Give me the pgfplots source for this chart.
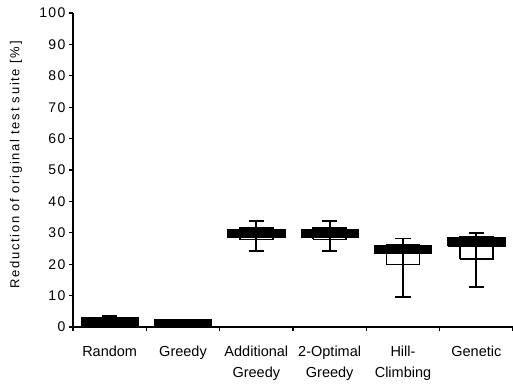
\documentclass[border=0pt]{standalone}
\usepackage{pgfplots}
\pgfplotsset{compat=1.18}
\usepackage{fontspec}
\setmainfont{Liberation Sans}
\newfontfamily\ticksfont[LetterSpace=10]{Liberation Sans}
\newfontfamily\labfont[LetterSpace=13]{Liberation Sans}

% #1 position, #2 min, #3 q1 (white box), #4 q3 (white box), #5 max, #6 black low, #7 black high
\newcommand{\stockbox}[7]{%
  \pgfmathsetmacro\sbWL{#1-0.225}\pgfmathsetmacro\sbWR{#1+0.225}%
  \pgfmathsetmacro\sbCL{#1-0.105}\pgfmathsetmacro\sbCR{#1+0.105}%
  \pgfmathsetmacro\sbBL{#1-0.39}\pgfmathsetmacro\sbBR{#1+0.39}%
  \addplot[draw=black, line width=1.5pt, line join=miter, fill=white] coordinates {(\sbWL,#3) (\sbWR,#3) (\sbWR,#4) (\sbWL,#4) (\sbWL,#3)};
  \addplot[draw=black, line width=1.7pt] coordinates {(#1,#2) (#1,#5)};
  \addplot[draw=black, line width=1.7pt] coordinates {(\sbCL,#2) (\sbCR,#2)};
  \addplot[draw=black, line width=1.7pt] coordinates {(\sbCL,#5) (\sbCR,#5)};
  \addplot[draw=black, line width=0.8pt, line join=miter, fill=black] coordinates {(\sbBL,#6) (\sbBR,#6) (\sbBR,#7) (\sbBL,#7) (\sbBL,#6)};
}

\begin{document}
\begin{tikzpicture}
\useasboundingbox (0,0) rectangle (513pt,385pt);
\begin{axis}[
  at={(73pt,58pt)}, anchor=south west,
  scale only axis, width=440pt, height=314pt,
  xmin=-0.5, xmax=5.5, ymin=0, ymax=100,
  axis x line*=bottom, axis y line*=left,
  axis line style={line width=1.2pt, black},
  ytick={0,10,...,100},
  xtick={0,...,5},
  xticklabels={Random, Greedy, {Additional\\Greedy}, {2-Optimal\\Greedy}, {Hill-\\Climbing}, Genetic},
  minor xtick={-0.5,0.5,...,5.5},
  tick align=outside,
  major tick length=4pt,
  major x tick style={draw=none},
  minor tick length=4pt,
  tick style={line width=1.2pt, black},
  /pgf/number format/assume math mode=true,
  yticklabel style={font=\ticksfont\fontsize{14}{16}\selectfont, xshift=0pt},
  xticklabel style={font=\fontsize{14.5}{21}\selectfont, align=center, yshift=-11pt},
  ylabel={Reduction of original test suite [\%]},
  ylabel style={font=\labfont\fontsize{13}{15}\selectfont, at={(axis description cs:-0.1295,0.516)}, anchor=center},
  clip=false,
]
\stockbox{0}{0.2}{0.6}{2.9}{3.6}{0.6}{2.9}
\stockbox{1}{0.0}{0.2}{2.4}{2.4}{0.2}{2.4}
\stockbox{2}{24.2}{27.8}{31.6}{33.7}{28.5}{31.1}
\stockbox{3}{24.3}{27.9}{31.6}{33.8}{28.6}{31.1}
\stockbox{4}{9.6}{19.9}{26.3}{28.2}{23.4}{26.0}
\stockbox{5}{12.8}{21.6}{28.7}{29.9}{25.8}{28.4}
\end{axis}
\end{tikzpicture}
\end{document}
